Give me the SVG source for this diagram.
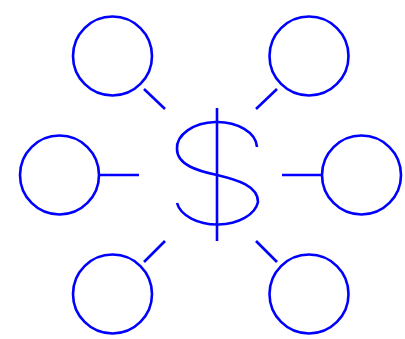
<svg xmlns="http://www.w3.org/2000/svg" width="405" height="339" viewBox="0 0 405 339">
<style>
.s{fill:none;stroke:#0000ff;stroke-width:2.6;stroke-linecap:butt}
</style>
<rect width="405" height="339" fill="#ffffff"/>
<g id="center">
<path class="s" d="M217,108 V241"/>
<path class="s" d="M257,147 A40,26 0 0 0 177,149 C177,165 198,171 217,175 C238,180 258,186 258,202 A41,26 0 0 1 177,203"/>
</g>
<g id="n1"><circle class="s" cx="112.5" cy="56" r="39.5"/></g>
<g id="n2"><circle class="s" cx="309" cy="56" r="39.5"/></g>
<g id="n3"><circle class="s" cx="59.5" cy="175" r="39.5"/></g>
<g id="n4"><circle class="s" cx="361.5" cy="175" r="39.5"/></g>
<g id="n5"><circle class="s" cx="112.5" cy="294" r="39.5"/></g>
<g id="n6"><circle class="s" cx="309" cy="294" r="39.5"/></g>
<g id="connectors">
<line class="s" x1="144" y1="89" x2="165" y2="109"/>
<line class="s" x1="277" y1="89" x2="256" y2="109"/>
<line class="s" x1="99" y1="175" x2="139" y2="175"/>
<line class="s" x1="282" y1="175" x2="322" y2="175"/>
<line class="s" x1="144" y1="262" x2="165" y2="241"/>
<line class="s" x1="277" y1="262" x2="256" y2="241"/>
</g>
</svg>
